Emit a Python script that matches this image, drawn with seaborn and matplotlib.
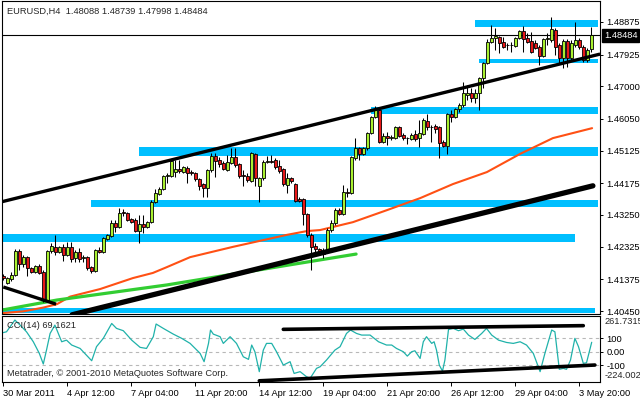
import matplotlib
matplotlib.use('Agg')
import matplotlib.pyplot as plt
import numpy as np
import pandas as pd
import seaborn as sns

sns.set_style('white')
plt.rcParams['font.family'] = ['Liberation Sans', 'DejaVu Sans']
plt.rcParams['font.size'] = 6.7

# EURUSD H4 candles (bar 0 = 30 Mar 2011 20:00)
opens = [1.4147, 1.4127, 1.4138, 1.4150, 1.4220, 1.4182, 1.4202, 1.4170, 1.4159, 1.4176,
         1.4159, 1.4077, 1.4220, 1.4232, 1.4217, 1.4232, 1.4208, 1.4232, 1.4199, 1.4217,
         1.4199, 1.4202, 1.4173, 1.4162, 1.4223, 1.4217, 1.4255, 1.4264, 1.4301, 1.4290,
         1.4334, 1.4331, 1.4313, 1.4310, 1.4278, 1.4299, 1.4290, 1.4304, 1.4363, 1.4386,
         1.4401, 1.4439, 1.4439, 1.4450, 1.4459, 1.4450, 1.4462, 1.4450, 1.4447, 1.4430,
         1.4415, 1.4404, 1.4456, 1.4497, 1.4485, 1.4476, 1.4456, 1.4476, 1.4494, 1.4473,
         1.4441, 1.4439, 1.4424, 1.4503, 1.4409, 1.4433, 1.4479, 1.4482, 1.4485, 1.4468,
         1.4459, 1.4412, 1.4433, 1.4415, 1.4371, 1.4371, 1.4328, 1.4267, 1.4234, 1.4226,
         1.4211, 1.4220, 1.4281, 1.4301, 1.4339, 1.4328, 1.4392, 1.4389, 1.4491, 1.4520,
         1.4503, 1.4520, 1.4564, 1.4611, 1.4631, 1.4538, 1.4555, 1.4549, 1.4549, 1.4581,
         1.4558, 1.4549, 1.4546, 1.4561, 1.4549, 1.4561, 1.4599, 1.4581, 1.4584, 1.4581,
         1.4538, 1.4526, 1.4619, 1.4611, 1.4634, 1.4646, 1.4675, 1.4681, 1.4666, 1.4681,
         1.4724, 1.4768, 1.4829, 1.4841, 1.4844, 1.4829, 1.4820, 1.4819, 1.4817, 1.4841,
         1.4861, 1.4841, 1.4832, 1.4826, 1.4815, 1.4788, 1.4838, 1.4835, 1.4864, 1.4820,
         1.4782, 1.4832, 1.4782, 1.4820, 1.4835, 1.4815, 1.4777, 1.48088]
highs = [1.4153, 1.4144, 1.4159, 1.4226, 1.4226, 1.4208, 1.4205, 1.4173, 1.4179, 1.4182,
         1.4165, 1.4223, 1.4243, 1.4267, 1.4234, 1.4240, 1.4246, 1.4246, 1.4223, 1.4229,
         1.4208, 1.4205, 1.4176, 1.4226, 1.4232, 1.4261, 1.4269, 1.4310, 1.4310, 1.4345,
         1.4342, 1.4334, 1.4316, 1.4316, 1.4325, 1.4325, 1.4307, 1.4369, 1.4401, 1.4406,
         1.4441, 1.4447, 1.4488, 1.4485, 1.4485, 1.4468, 1.4468, 1.4456, 1.4450, 1.4433,
         1.4418, 1.4459, 1.4506, 1.4506, 1.4494, 1.4482, 1.4500, 1.4520, 1.4520, 1.4476,
         1.4456, 1.4447, 1.4509, 1.4506, 1.4436, 1.4485, 1.4497, 1.4500, 1.4491, 1.4485,
         1.4462, 1.4447, 1.4436, 1.4418, 1.4377, 1.4374, 1.4331, 1.4272, 1.4243, 1.4229,
         1.4229, 1.4287, 1.4310, 1.4345, 1.4345, 1.4412, 1.4404, 1.4497, 1.4549, 1.4523,
         1.4523, 1.4567, 1.4613, 1.4643, 1.4637, 1.4564, 1.4567, 1.4558, 1.4584, 1.4584,
         1.4564, 1.4552, 1.4564, 1.4573, 1.4602, 1.4608, 1.4619, 1.4587, 1.4590, 1.4584,
         1.4543, 1.4622, 1.4631, 1.4637, 1.4651, 1.4713, 1.4704, 1.4695, 1.4692, 1.4727,
         1.4771, 1.4838, 1.4879, 1.4870, 1.4847, 1.4844, 1.4826, 1.4829, 1.4844, 1.4864,
         1.4876, 1.4855, 1.4858, 1.4835, 1.4820, 1.4841, 1.4855, 1.4902, 1.4870, 1.4826,
         1.4838, 1.4838, 1.4835, 1.4887, 1.4841, 1.4820, 1.4812, 1.48739]
lows = [1.4135, 1.4124, 1.4133, 1.4147, 1.4165, 1.4173, 1.4147, 1.4156, 1.4156, 1.4153,
        1.4071, 1.4071, 1.4214, 1.4208, 1.4214, 1.4191, 1.4205, 1.4188, 1.4188, 1.4188,
        1.4188, 1.4165, 1.4156, 1.4159, 1.4214, 1.4214, 1.4252, 1.4261, 1.4275, 1.4287,
        1.4322, 1.4307, 1.4301, 1.4275, 1.4243, 1.4272, 1.4287, 1.4301, 1.4360, 1.4383,
        1.4398, 1.4418, 1.4436, 1.4436, 1.4447, 1.4447, 1.4418, 1.4441, 1.4424, 1.4398,
        1.4377, 1.4377, 1.4450, 1.4436, 1.4465, 1.4456, 1.4453, 1.4473, 1.4465, 1.4433,
        1.4409, 1.4421, 1.4421, 1.4409, 1.4363, 1.4427, 1.4476, 1.4476, 1.4459, 1.4447,
        1.4409, 1.4389, 1.4418, 1.4363, 1.4363, 1.4296, 1.4261, 1.4165, 1.4217, 1.4208,
        1.4199, 1.4217, 1.4275, 1.4296, 1.4325, 1.4325, 1.4377, 1.4386, 1.4485, 1.4485,
        1.4500, 1.4514, 1.4561, 1.4608, 1.4535, 1.4535, 1.4529, 1.4543, 1.4546, 1.4552,
        1.4543, 1.4532, 1.4543, 1.4540, 1.4523, 1.4558, 1.4573, 1.4538, 1.4564, 1.4491,
        1.4523, 1.4503, 1.4596, 1.4608, 1.4625, 1.4640, 1.4660, 1.4654, 1.4651, 1.4631,
        1.4695, 1.4765, 1.4826, 1.4806, 1.4797, 1.4812, 1.4806, 1.4800, 1.4815, 1.4838,
        1.4800, 1.4826, 1.4797, 1.4809, 1.4762, 1.4785, 1.4820, 1.4829, 1.4791, 1.4768,
        1.4753, 1.4756, 1.4777, 1.4815, 1.4809, 1.4771, 1.4771, 1.47998]
closes = [1.4141, 1.4141, 1.4150, 1.4220, 1.4182, 1.4202, 1.4170, 1.4159, 1.4176, 1.4156,
          1.4077, 1.4220, 1.4234, 1.4217, 1.4232, 1.4208, 1.4232, 1.4197, 1.4217, 1.4197,
          1.4202, 1.4170, 1.4162, 1.4223, 1.4217, 1.4258, 1.4267, 1.4301, 1.4290, 1.4331,
          1.4331, 1.4310, 1.4304, 1.4278, 1.4299, 1.4290, 1.4304, 1.4363, 1.4389, 1.4401,
          1.4439, 1.4441, 1.4482, 1.4459, 1.4453, 1.4465, 1.4447, 1.4447, 1.4430, 1.4409,
          1.4404, 1.4456, 1.4497, 1.4482, 1.4473, 1.4459, 1.4479, 1.4494, 1.4471, 1.4439,
          1.4439, 1.4427, 1.4506, 1.4433, 1.4433, 1.4479, 1.4482, 1.4479, 1.4465, 1.4453,
          1.4415, 1.4433, 1.4424, 1.4366, 1.4366, 1.4328, 1.4267, 1.4232, 1.4226, 1.4217,
          1.4220, 1.4281, 1.4301, 1.4339, 1.4328, 1.4392, 1.4389, 1.4494, 1.4520, 1.4503,
          1.4520, 1.4564, 1.4611, 1.4631, 1.4538, 1.4555, 1.4549, 1.4552, 1.4581, 1.4555,
          1.4549, 1.4550, 1.4558, 1.4546, 1.4564, 1.4602, 1.4581, 1.4580, 1.4576, 1.4535,
          1.4526, 1.4619, 1.4611, 1.4634, 1.4646, 1.4681, 1.4681, 1.4666, 1.4681, 1.4724,
          1.4768, 1.4829, 1.4841, 1.4847, 1.4826, 1.4815, 1.4819, 1.4821, 1.4841, 1.4861,
          1.4838, 1.4829, 1.4800, 1.4812, 1.4788, 1.4838, 1.4841, 1.4867, 1.4815, 1.4782,
          1.4832, 1.4782, 1.4826, 1.4835, 1.4815, 1.4777, 1.4806, 1.48484]

# orange moving average, vertices
ma_idx = [-0.2, 5, 10, 13.4, 16.7, 24.2, 32.4, 37.4, 40.9, 46.7, 57.4, 70.9, 75.9, 79.2,
          87.4, 95.9, 104.2, 112.4, 120.9, 129.2, 137.4, 147.2]
ma_val = [1.4039, 1.4044, 1.4055, 1.4065, 1.4087, 1.4109, 1.4141, 1.4156, 1.4173, 1.4202,
          1.4232, 1.4267, 1.4278, 1.4281, 1.4304, 1.4339, 1.4374, 1.4415, 1.4450, 1.4503,
          1.4549, 1.4578]

# green line
green_idx = [-0.2, 13.4, 40.9, 79.2, 88.2]
green_val = [1.4048, 1.4077, 1.4121, 1.4194, 1.4211]

# black trend lines (bar, price)
chan_top_idx, chan_top_val = [-0.2, 149.2], [1.4364, 1.4794]
chan_low_idx, chan_low_val = [17.2, 147.4], [1.4034, 1.4410]
chan_left_idx, chan_left_val = [0, 13.2], [1.4115, 1.4065]

# support / resistance zones
band_lo = [1.4873, 1.4768, 1.4619, 1.4497, 1.4348, 1.4246, 1.4038]
band_hi = [1.4893, 1.4780, 1.4640, 1.4523, 1.4369, 1.4269, 1.4053]
band_start = [117.9, 118.9, 91.9, 33.9, 21.9, -0.4, -0.4]
band_end = [148.7, 148.7, 148.7, 148.7, 148.7, 142.9, 147.9]

price_ticks = [1.48875, 1.47925, 1.47000, 1.46050, 1.45125, 1.44175, 1.43250, 1.42325, 1.41375, 1.40450]
last_price = 1.48484

# CCI(14)
cci_idx = [-0.2, 0.8, 2.9, 4.2, 5.8, 7.5, 9.0, 10.0, 10.8, 11.7, 12.9, 14.6, 15.8, 17.1, 19.2,
           22.1, 23.3, 25.0, 27.1, 28.3, 30.0, 32.1, 34.2, 35.8, 37.5, 38.2, 40.0, 42.5, 44.6,
           46.7, 49.2, 50.2, 51.3, 51.8, 52.5, 54.2, 55.0, 56.7, 58.3, 60.0, 61.3, 62.1, 62.9,
           64.0, 65.0, 65.8, 67.1, 68.3, 70.0, 71.7, 72.7, 74.2, 75.8, 76.7, 78.3, 79.2, 80.8,
           82.9, 84.2, 85.8, 86.8, 88.3, 89.6, 91.7, 93.8, 95.8, 97.1, 98.3, 100.0, 101.0,
           102.1, 102.9, 104.2, 105.0, 105.8, 107.1, 107.7, 108.3, 109.0, 109.8, 110.4, 111.3,
           112.5, 113.8, 115.0, 116.3, 117.9, 119.6, 120.8, 122.1, 123.8, 125.8, 127.5, 129.2,
           130.8, 132.5, 134.2, 135.4, 137.1, 137.9, 139.0, 140.0, 140.8, 141.8, 142.9, 143.8,
           145.0, 145.8, 147.1]
cci_val = [139, 146, 232, 195, 146, 73, -12, -90, 12, 134, 195, 73, 85, 49, 24,
           -66, 37, 98, 207, 171, 154, 85, 32, 24, 110, 203, 171, 129, 98,
           61, -12, -73, 61, 159, 129, 110, 61, 110, 61, -37, -56, 49, 0,
           -146, 12, 61, 61, 0, -98, -73, -159, -146, -183, -195, -122, -110, -61,
           12, 37, 134, 159, 134, 122, 122, 73, 49, 49, 24, 0, -32,
           0, 7, -49, 73, 110, 61, 73, 12, -98, -142, -61, 163,
           171, 154, 166, 122, 90, 134, 171, 122, 85, 68, 61, 73,
           49, -12, -146, -12, 159, 146, -129, -122, -129, -61, 98, 37,
           -85, -81, 69.1621]
cci_top_idx, cci_top_val = [70, 145], [164, 191]
cci_bot_idx, cci_bot_val = [64, 147.9], [-213, -97.5]

time_ticks = [0, 16, 32, 48, 64, 80, 96, 112, 128, 144]
time_labels = ['30 Mar 2011', '4 Apr 12:00', '7 Apr 04:00', '11 Apr 20:00', '14 Apr 12:00',
               '19 Apr 04:00', '21 Apr 20:00', '26 Apr 12:00', '29 Apr 04:00', '3 May 20:00']

df = pd.DataFrame({'open': opens, 'high': highs, 'low': lows, 'close': closes})
df['bar'] = np.arange(len(df))
up = df['close'] >= df['open']

W, H = 640, 400
fig = plt.figure(figsize=(6.4, 4.0), dpi=100)
fig.patch.set_facecolor('white')
ax = fig.add_axes([2 / W, 1 - 314 / H, 598 / W, 313 / H])
cx = fig.add_axes([2 / W, 1 - 382.3 / H, 598 / W, 66.3 / H])

# main price window
for s, e, lo, hi in zip(band_start, band_end, band_lo, band_hi):
    ax.fill_between([s, e], lo, hi, color='#00BFFF', lw=0, zorder=1)
ax.axhline(last_price, color='black', lw=0.8, zorder=2)
sns.lineplot(x=ma_idx, y=ma_val, ax=ax, color='#FF5014', lw=1.5, sort=False, estimator=None, zorder=2)
sns.lineplot(x=green_idx, y=green_val, ax=ax, color='#32CD32', lw=2.3, sort=False, estimator=None, zorder=2)

ax.vlines(df['bar'], df['low'], df['high'], color='black', lw=0.75, zorder=3)
body_lo = df[['open', 'close']].min(axis=1)
body_h = (df['close'] - df['open']).abs().clip(lower=0.00004)
ax.bar(df['bar'], body_h, bottom=body_lo, width=0.65,
       color=np.where(up, '#A8F030', '#E81818'), edgecolor='black', linewidth=0.6, zorder=4)

ax.plot(chan_top_idx, chan_top_val, color='black', lw=2.4, solid_capstyle='butt', zorder=5)
ax.plot(chan_low_idx, chan_low_val, color='black', lw=3.8, solid_capstyle='round', zorder=5)
ax.plot(chan_left_idx, chan_left_val, color='black', lw=2.4, solid_capstyle='butt', zorder=5)

x0, x1 = -0.325, 149.175
ax.set_xlim(x0, x1)
ax.set_ylim(1.40363, 1.49487)
ax.set_xticks([])
ax.yaxis.tick_right()
ax.set_yticks(price_ticks)
ax.set_yticklabels(['%.5f' % v for v in price_ticks])
ax.tick_params(axis='y', which='major', right=True, length=2.5, width=0.7, pad=2, labelsize=6.7, colors='black')
ax.text(1.0065, last_price, '%.5f' % last_price, transform=ax.get_yaxis_transform(),
        color='white', fontsize=6.7, va='center', ha='left',
        bbox=dict(facecolor='black', edgecolor='black', pad=1.2))

# CCI window
for lvl in [100, 0, -100]:
    cx.axhline(lvl, color='#b8b8b8', lw=0.8, ls=(0, (3, 3)), zorder=1)
sns.lineplot(x=cci_idx, y=cci_val, ax=cx, color='#20B2AA', lw=0.9, sort=False, estimator=None, zorder=2)
cx.plot(cci_top_idx, cci_top_val, color='black', lw=2.6, zorder=3)
cx.plot(cci_bot_idx, cci_bot_val, color='black', lw=2.6, zorder=3)
cx.set_xlim(x0, x1)
cx.set_ylim(-224.002, 261.7315)
cx.yaxis.tick_right()
cx.set_yticks([100, 0, -100])
cx.set_yticklabels(['100', '0.00', '-100'])
cx.tick_params(axis='y', right=True, length=2.5, width=0.7, pad=2, labelsize=6.7, colors='black')
cx.text(1.0075, 0.985, '261.7315', transform=cx.transAxes, fontsize=6.7, va='top', ha='left')
cx.text(1.0075, 0.03, '-224.002', transform=cx.transAxes, fontsize=6.7, va='bottom', ha='left')
cx.set_xticks(time_ticks)
cx.set_xticklabels(time_labels, ha='left')
cx.tick_params(axis='x', bottom=True, length=3, width=0.7, pad=1.5, labelsize=6.7, colors='black')
cx.text(0.008, 0.86, 'CCI(14) 69.1621', transform=cx.transAxes, fontsize=6.7, va='center', ha='left')
cx.text(0.008, 0.13, 'Metatrader, \u00a9 2001-2010 MetaQuotes Software Corp.', transform=cx.transAxes,
        fontsize=6.7, va='center', ha='left')

for a in (ax, cx):
    a.set_xlabel('')
    a.set_ylabel('')
    a.set_facecolor('white')
    for sp in a.spines.values():
        sp.set_visible(True)
        sp.set_color('black')
        sp.set_linewidth(0.8)

fig.text(7 / W, 1 - 11 / H, 'EURUSD,H4  1.48088 1.48739 1.47998 1.48484', fontsize=6.7,
         va='center', ha='left')

fig.savefig('out.png', dpi=100, facecolor='white')
